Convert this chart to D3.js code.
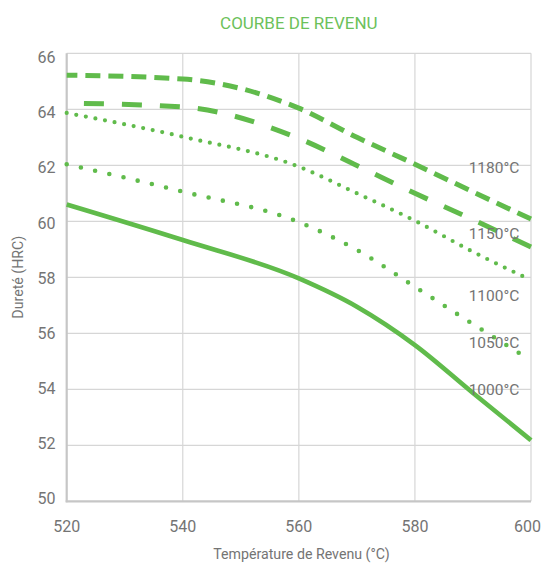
<!DOCTYPE html>
<html>
<head>
<meta charset="utf-8">
<script src="https://cdn.jsdelivr.net/npm/d3@7"></script>
<style>
  html, body { margin: 0; padding: 0; background: #fff; }
  svg { display: block; font-family: Roboto, "Noto Sans", sans-serif; }
</style>
</head>
<body>
<svg id="chart" width="543" height="563"></svg>
<script>
// Tempering temperatures (°C) and hardness (HRC) for each hardening temperature
const temperatures = [520, 540, 560, 570, 580, 590, 600];
const hardness1180 = [65.22, 65.08, 64.04, 63.0, 62.04, 61.05, 60.08];
const hardness1150 = [64.22, 64.08, 62.96, 61.99, 61.0, 60.06, 59.08];
const hardness1100 = [63.87, 63.02, 61.95, 61.0, 60.02, 58.91, 57.9];
const hardness1050 = [62.04, 61.06, 59.97, 58.98, 57.66, 56.33, 55.03];
const hardness1000 = [60.6, 59.33, 57.96, 56.95, 55.58, 53.87, 52.18];

const seriesNames = ["1180°C", "1150°C", "1100°C", "1050°C", "1000°C"];
const labelHardness = [61.94, 59.56, 57.34, 55.67, 54.01];
const labelTemperature = 598;

const xTicks = [520, 540, 560, 580, 600];
const yTicks = [50, 52, 54, 56, 58, 60, 62, 64, 66];

const chartTitle = "COURBE DE REVENU";
const xTitle = "Température de Revenu (°C)";
const yTitle = "Dureté (HRC)";

// ---- layout ----
const W = 543, H = 563;
const plot = { left: 66.7, right: 531, top: 53.3, bottom: 501.3 };
const green = "#60bb4b";
const textGrey = "#747474";

const svg = d3.select("#chart");

const x = d3.scaleLinear().domain([520, 600]).range([plot.left, plot.right]);
const y = d3.scaleLinear().domain([50, 66]).range([plot.bottom, plot.top]);
// tick labels sit on a slightly tighter band than the grid
const yLabel = d3.scaleLinear().domain([50, 66]).range([plot.bottom - 2.6, plot.top + 4.2]);

// grid
const grid = svg.append("g");
grid.selectAll("line.h").data(yTicks.slice(1)).join("line")
  .attr("x1", plot.left).attr("x2", plot.right)
  .attr("y1", d => y(d)).attr("y2", d => y(d))
  .attr("stroke", "#d6d6d6").attr("stroke-width", 1.2);
grid.selectAll("line.v").data(xTicks.slice(1)).join("line")
  .attr("y1", plot.top).attr("y2", plot.bottom)
  .attr("x1", d => x(d)).attr("x2", d => x(d))
  .attr("stroke", "#d6d6d6").attr("stroke-width", 1.2);

// axis lines
svg.append("line").attr("x1", plot.left).attr("x2", plot.left)
  .attr("y1", plot.top).attr("y2", plot.bottom + 1)
  .attr("stroke", "#c6c6c6").attr("stroke-width", 2.2);
svg.append("line").attr("x1", plot.left - 1).attr("x2", plot.right)
  .attr("y1", plot.bottom).attr("y2", plot.bottom)
  .attr("stroke", "#c6c6c6").attr("stroke-width", 2.2);

// y tick labels
svg.append("g").selectAll("text").data(yTicks).join("text")
  .attr("x", 55.5).attr("y", d => yLabel(d))
  .attr("dy", "0.35em").attr("text-anchor", "end")
  .attr("font-size", 16).attr("fill", textGrey)
  .text(d => d);

// x tick labels (kept inside the right edge)
svg.append("g").selectAll("text").data(xTicks).join("text")
  .attr("x", d => x(d)).attr("y", 531.7)
  .attr("text-anchor", "middle")
  .attr("font-size", 16).attr("fill", textGrey)
  .text(d => d)
  .each(function () {
    const b = this.getBBox();
    const overflow = b.x + b.width - (W - 2);
    if (overflow > 0) d3.select(this).attr("x", +this.getAttribute("x") - overflow);
  });

// titles
svg.append("text").attr("x", (plot.left + plot.right) / 2).attr("y", 29)
  .attr("text-anchor", "middle").attr("font-size", 17).attr("fill", "#6cc15a")
  .text(chartTitle);
svg.append("text").attr("x", 301.5).attr("y", 559.3)
  .attr("text-anchor", "middle").attr("font-size", 14.2).attr("fill", textGrey)
  .text(xTitle);
svg.append("text")
  .attr("transform", `translate(22.5, ${(plot.top + plot.bottom) / 2}) rotate(-90)`)
  .attr("text-anchor", "middle").attr("font-size", 14.2).attr("fill", textGrey)
  .text(yTitle);

// curves: dashes end flush with the 600 °C edge, dots land on both ends
const series = [
  { values: hardness1180, width: 5, dash: 15, gap: 8, dotted: false },
  { values: hardness1150, width: 5, dash: 20, gap: 18, dotted: false },
  { values: hardness1100, width: 4.2, dash: 0, gap: 9.8, dotted: true },
  { values: hardness1050, width: 4.6, dash: 0, gap: 14.6, dotted: true },
  { values: hardness1000, width: 4.6, dash: null, gap: 0, dotted: false }
];

const line = d3.line()
  .x(d => x(d[0])).y(d => y(d[1]))
  .curve(d3.curveMonotoneX);

const curves = svg.append("g").attr("fill", "none");
series.forEach(s => {
  const pts = temperatures.map((t, i) => [t, s.values[i]]);
  const p = curves.append("path")
    .attr("d", line(pts))
    .attr("stroke", green)
    .attr("stroke-width", s.width)
    .attr("stroke-linecap", s.dotted ? "round" : "butt")
    .attr("stroke-linejoin", "round");
  if (s.dash === null) return;
  const L = p.node().getTotalLength();
  if (s.dotted) {
    const period = L / Math.round(L / s.gap);
    p.attr("stroke-dasharray", `0 ${period}`);
  } else {
    const period = s.dash + s.gap;
    const offset = s.dash - (L % period);
    p.attr("stroke-dasharray", `${s.dash} ${s.gap}`)
     .attr("stroke-dashoffset", offset);
  }
});

// curve labels
svg.append("g").selectAll("text").data(seriesNames).join("text")
  .attr("x", x(labelTemperature))
  .attr("y", (d, i) => y(labelHardness[i]))
  .attr("dy", "0.36em")
  .attr("text-anchor", "end")
  .attr("font-size", 15.5).attr("fill", textGrey)
  .text(d => d);
</script>
</body>
</html>
